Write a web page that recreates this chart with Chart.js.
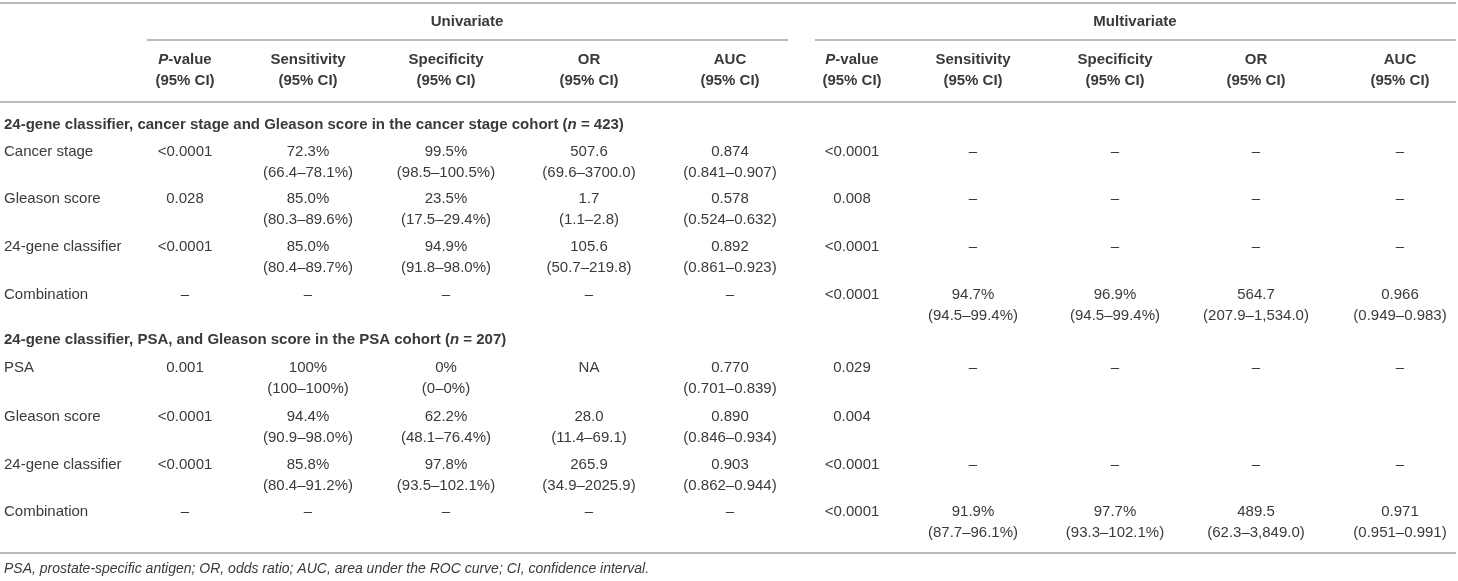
<!DOCTYPE html>
<html>
<head>
<meta charset="utf-8">
<title>24-gene classifier table</title>
<script src="https://cdn.jsdelivr.net/npm/chart.js@4/dist/chart.umd.min.js"></script>
<style>
  html, body { margin: 0; padding: 0; background: #fff; }
  canvas { display: block; }
</style>
</head>
<body>
<canvas id="chart" width="1458" height="581"></canvas>
<script>
// table content ("*" toggles italic, "\n" starts the CI line)
const groupTitles = ["Univariate", "Multivariate"];
const columnHeads = ["*P*-value\n(95% CI)", "Sensitivity\n(95% CI)", "Specificity\n(95% CI)", "OR\n(95% CI)", "AUC\n(95% CI)"];
const sectionTitles = [
  "24-gene classifier, cancer stage and Gleason score in the cancer stage cohort (*n* = 423)",
  "24-gene classifier, PSA, and Gleason score in the PSA cohort (*n* = 207)"
];

const stageRows = ["Cancer stage", "Gleason score", "24-gene classifier", "Combination"];
const stageUnivariate = [
  ["<0.0001", "72.3%\n(66.4–78.1%)", "99.5%\n(98.5–100.5%)", "507.6\n(69.6–3700.0)", "0.874\n(0.841–0.907)"],
  ["0.028", "85.0%\n(80.3–89.6%)", "23.5%\n(17.5–29.4%)", "1.7\n(1.1–2.8)", "0.578\n(0.524–0.632)"],
  ["<0.0001", "85.0%\n(80.4–89.7%)", "94.9%\n(91.8–98.0%)", "105.6\n(50.7–219.8)", "0.892\n(0.861–0.923)"],
  ["–", "–", "–", "–", "–"]
];
const stageMultivariate = [
  ["<0.0001", "–", "–", "–", "–"],
  ["0.008", "–", "–", "–", "–"],
  ["<0.0001", "–", "–", "–", "–"],
  ["<0.0001", "94.7%\n(94.5–99.4%)", "96.9%\n(94.5–99.4%)", "564.7\n(207.9–1,534.0)", "0.966\n(0.949–0.983)"]
];

const psaRows = ["PSA", "Gleason score", "24-gene classifier", "Combination"];
const psaUnivariate = [
  ["0.001", "100%\n(100–100%)", "0%\n(0–0%)", "NA", "0.770\n(0.701–0.839)"],
  ["<0.0001", "94.4%\n(90.9–98.0%)", "62.2%\n(48.1–76.4%)", "28.0\n(11.4–69.1)", "0.890\n(0.846–0.934)"],
  ["<0.0001", "85.8%\n(80.4–91.2%)", "97.8%\n(93.5–102.1%)", "265.9\n(34.9–2025.9)", "0.903\n(0.862–0.944)"],
  ["–", "–", "–", "–", "–"]
];
const psaMultivariate = [
  ["0.029", "–", "–", "–", "–"],
  ["0.004", "", "", "", ""],
  ["<0.0001", "–", "–", "–", "–"],
  ["<0.0001", "91.9%\n(87.7–96.1%)", "97.7%\n(93.3–102.1%)", "489.5\n(62.3–3,849.0)", "0.971\n(0.951–0.991)"]
];

const footnote = "*PSA, prostate-specific antigen; OR, odds ratio; AUC, area under the ROC curve; CI, confidence interval.*";

// layout (in scale units = pixels)
const W = 1458, H = 581;
const labelX = 4;
const colX = [185, 308, 446, 589, 730, 852, 973, 1115, 1256, 1400];
const groupX = [467, 1135];
const stageY = [152, 199, 247, 295];
const psaY = [368, 417, 465, 512];
const FONT = "'Liberation Sans', Arial, Helvetica, sans-serif";
const TEXT = "#3a3a3a";
const RULE = "#a3a3a3";

const cells = [];
function cell(x, y, text, bold, align) {
  cells.push({ x: x, y: y, text: text, bold: bold, align: align || "center" });
}

groupTitles.forEach((t, g) => cell(groupX[g], 22, t, true));
[0, 5].forEach((off) => columnHeads.forEach((h, c) => cell(colX[off + c], 60, h, true)));

function addSection(title, titleY, rows, rowY, uni, multi) {
  cell(labelX, titleY, title, true, "left");
  rows.forEach((r, i) => {
    cell(labelX, rowY[i], r, false, "left");
    uni[i].forEach((v, c) => v && cell(colX[c], rowY[i], v, false));
    multi[i].forEach((v, c) => v && cell(colX[5 + c], rowY[i], v, false));
  });
}
addSection(sectionTitles[0], 125, stageRows, stageY, stageUnivariate, stageMultivariate);
addSection(sectionTitles[1], 340, psaRows, psaY, psaUnivariate, psaMultivariate);
cell(labelX, 569, footnote, false, "left");

const rules = [
  [0, 1456, 3], [147, 788, 40], [815, 1456, 40], [0, 1456, 102], [0, 1456, 553]
];

function ruleDataset(r) {
  return {
    data: [{ x: r[0], y: r[2] }, { x: r[1], y: r[2] }],
    showLine: true, borderColor: RULE, borderWidth: 1.5,
    pointRadius: 0, fill: false
  };
}

// draws each cell's text at the point the scales placed it
const cellText = {
  id: "cellText",
  afterDatasetsDraw(chart) {
    const ctx = chart.ctx;
    const meta = chart.getDatasetMeta(0);
    ctx.save();
    ctx.fillStyle = TEXT;
    ctx.textBaseline = "middle";
    meta.data.forEach((pt, i) => {
      const c = cells[i];
      const size = c.text === footnote ? 14 : 15;
      c.text.split("\n").forEach((line, li) => {
        const parts = line.split("*");
        const fontFor = (k) => (k % 2 ? "italic " : "") + (c.bold ? "bold " : "") + size + "px " + FONT;
        let total = 0;
        parts.forEach((p, k) => { ctx.font = fontFor(k); total += ctx.measureText(p).width; });
        let x = c.align === "left" ? pt.x : pt.x - total / 2;
        parts.forEach((p, k) => {
          ctx.font = fontFor(k);
          ctx.fillText(p, x, pt.y + li * 21);
          x += ctx.measureText(p).width;
        });
      });
    });
    ctx.restore();
  }
};

new Chart(document.getElementById("chart"), {
  type: "scatter",
  data: {
    datasets: [
      { data: cells.map((c) => ({ x: c.x, y: c.y })), pointRadius: 0 }
    ].concat(rules.map(ruleDataset))
  },
  options: {
    responsive: false,
    animation: false,
    events: [],
    layout: { padding: 0 },
    plugins: { legend: { display: false }, tooltip: { enabled: false } },
    scales: {
      x: { type: "linear", min: 0, max: W, display: false },
      y: { type: "linear", min: 0, max: H, reverse: true, display: false }
    }
  },
  plugins: [cellText]
});
</script>
</body>
</html>
